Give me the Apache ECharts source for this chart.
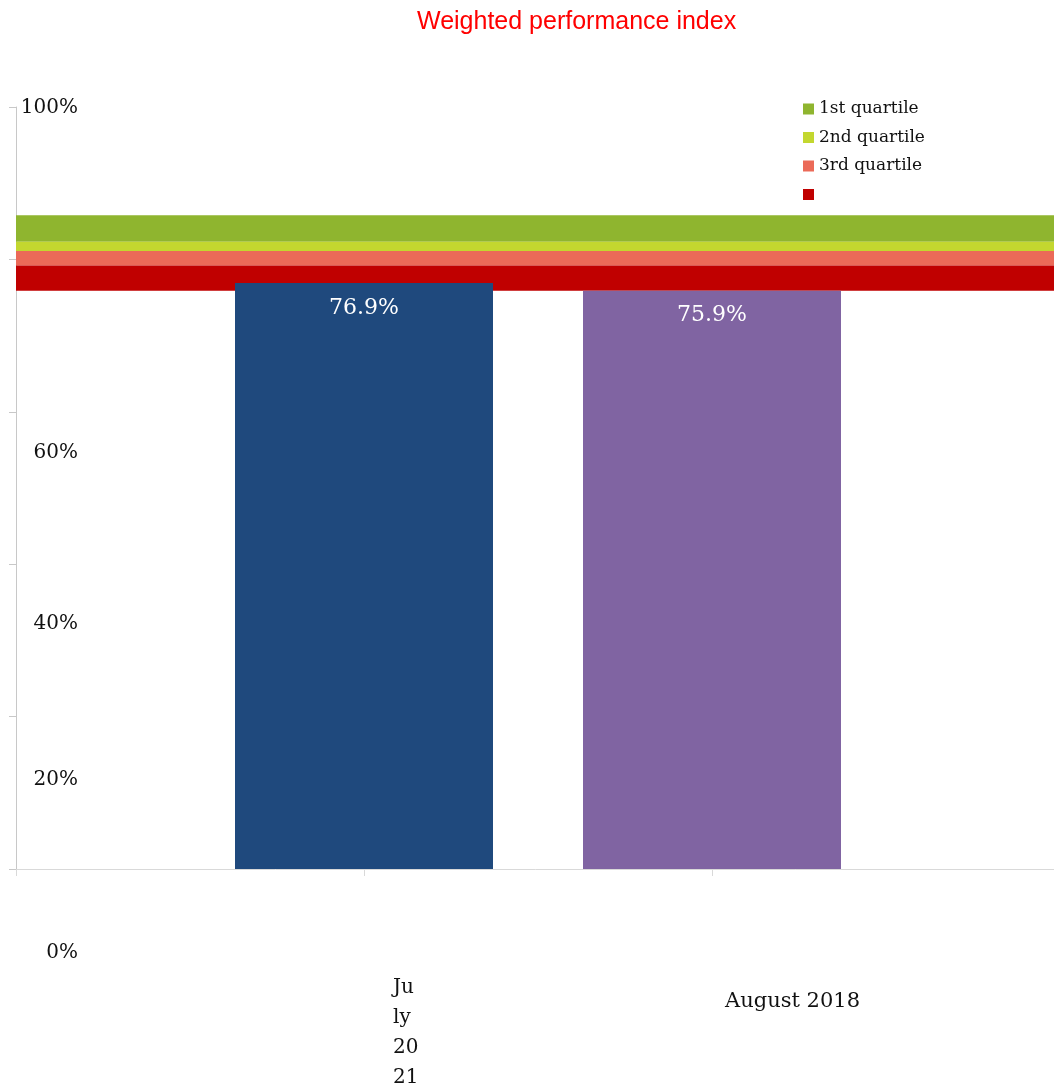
<!DOCTYPE html>
<html>
<head>
<meta charset="utf-8">
<title>Weighted performance index</title>
<script src="https://cdn.jsdelivr.net/npm/echarts@6/dist/echarts.min.js"></script>
<style>
  html, body { margin: 0; padding: 0; background: #ffffff; }
  #chart { width: 1054px; height: 1091px; }
</style>
</head>
<body>
<div id="chart"></div>
<script>
// Period categories (empty slots keep the bars off the plot edges)
const categories = ['', 'July 2021', 'August 2018', ''];
// Weighted performance index per period (%)
const indexValues = [null, 76.9, 75.9, null];

// Quartile bands: names and lower/upper bounds (%)
const quartileNames = ['1st quartile', '2nd quartile', '3rd quartile', '4th quartile'];
const quartileLow  = [82.3, 81.1, 79.2, 75.9];
const quartileHigh = [85.8, 82.3, 81.1, 79.2];

// Value-axis tick values (%)
const yTicks = [0, 20, 40, 60, 80, 100];

// Styling
const barColors = ['#1F497D', '#1F497D', '#8064A2', '#8064A2'];
const quartileColors = ['#8FB52F', '#C3D72F', '#EB6A58', '#C00000'];
const serif = 'DejaVu Serif';

// Each word is cut into two-character pieces, one per line
function narrowWrap(name, size) {
  const lines = [];
  name.split(' ').forEach(function (word) {
    for (let i = 0; i < word.length; i += size) lines.push(word.slice(i, i + size));
  });
  return lines.join('\n');
}

// Vertical drop of each value-axis label below its tick (padding = 2 x drop)
const yLabelPad = { 0: 168, 20: 126, 40: 120, 60: 82, 100: 2 };
const yRich = {};
yTicks.forEach(function (t) {
  yRich['y' + t] = {
    fontFamily: serif, fontSize: 20, color: '#111',
    padding: [yLabelPad[t] || 0, 0, 0, 0]
  };
});

const chart = echarts.init(document.getElementById('chart'), null, { renderer: 'canvas' });

const quartileSeries = quartileNames.map(function (name, i) {
  return {
    name: name,
    type: 'line',
    data: [],
    z: 1,
    itemStyle: { color: quartileColors[i] },
    lineStyle: { color: quartileColors[i] },
    markArea: {
      silent: true,
      itemStyle: { color: quartileColors[i], opacity: 1 },
      data: [[{ yAxis: quartileLow[i] }, { yAxis: quartileHigh[i] }]]
    }
  };
});

const option = {
  backgroundColor: '#ffffff',
  animation: false,
  title: {
    text: 'Weighted performance index',
    left: 417,
    top: 10,
    padding: 0,
    textStyle: {
      fontFamily: 'Liberation Sans',
      fontSize: 25,
      fontWeight: 'normal',
      color: '#FF0000'
    }
  },
  legend: {
    data: quartileNames.map(function (n, i) {
      return i === 3 ? { name: n, textStyle: { color: 'rgba(0,0,0,0)' } } : { name: n };
    }),
    orient: 'vertical',
    left: 803,
    top: 99,
    padding: 0,
    icon: 'rect',
    itemWidth: 11,
    itemHeight: 11,
    itemGap: 8.5,
    selectedMode: false,
    textStyle: {
      fontFamily: serif,
      fontSize: 17,
      lineHeight: 20,
      color: '#111'
    }
  },
  grid: {
    left: 16,
    width: 1044,
    top: 107,
    height: 762,
    containLabel: false,
    outerBoundsMode: 'none'
  },
  xAxis: {
    type: 'category',
    data: categories,
    boundaryGap: false,
    axisLine: { show: true, lineStyle: { color: '#D9D9D9', width: 1 } },
    axisTick: { show: true, length: 7, interval: 0, lineStyle: { color: '#D9D9D9' } },
    splitLine: { show: false },
    axisLabel: {
      interval: 0,
      align: 'left',
      margin: 104,
      formatter: function (v) {
        if (!v) return '';
        if (v === 'July 2021') return '{jul|' + narrowWrap(v, 2) + '}';
        return '{aug|' + v + '}';
      },
      rich: {
        jul: { fontFamily: serif, fontSize: 20, lineHeight: 30, color: '#111', padding: [0, 0, 0, 29] },
        aug: { fontFamily: serif, fontSize: 21, lineHeight: 30, color: '#111', padding: [28, 0, 0, 13] }
      }
    }
  },
  yAxis: {
    type: 'value',
    min: 0,
    max: 100,
    interval: 20,
    axisLine: { show: true, lineStyle: { color: '#C8C8C8', width: 1 } },
    axisTick: { show: true, length: 7, lineStyle: { color: '#C8C8C8' } },
    splitLine: { show: false },
    axisLabel: {
      align: 'right',
      margin: -62,
      formatter: function (v) {
        return v === 80 ? '' : '{y' + v + '|' + v + '%}';
      },
      rich: yRich
    }
  },
  series: quartileSeries.concat([{
    name: 'Weighted performance index',
    type: 'bar',
    z: 10,
    barWidth: 258,
    data: indexValues.map(function (v, i) {
      return { value: v, itemStyle: { color: barColors[i] } };
    }),
    label: {
      show: true,
      position: 'insideTop',
      distance: 14,
      fontFamily: serif,
      fontSize: 22,
      color: '#ffffff',
      formatter: function (p) { return p.value.toFixed(1) + '%'; }
    }
  }])
};

chart.setOption(option);
</script>
</body>
</html>
